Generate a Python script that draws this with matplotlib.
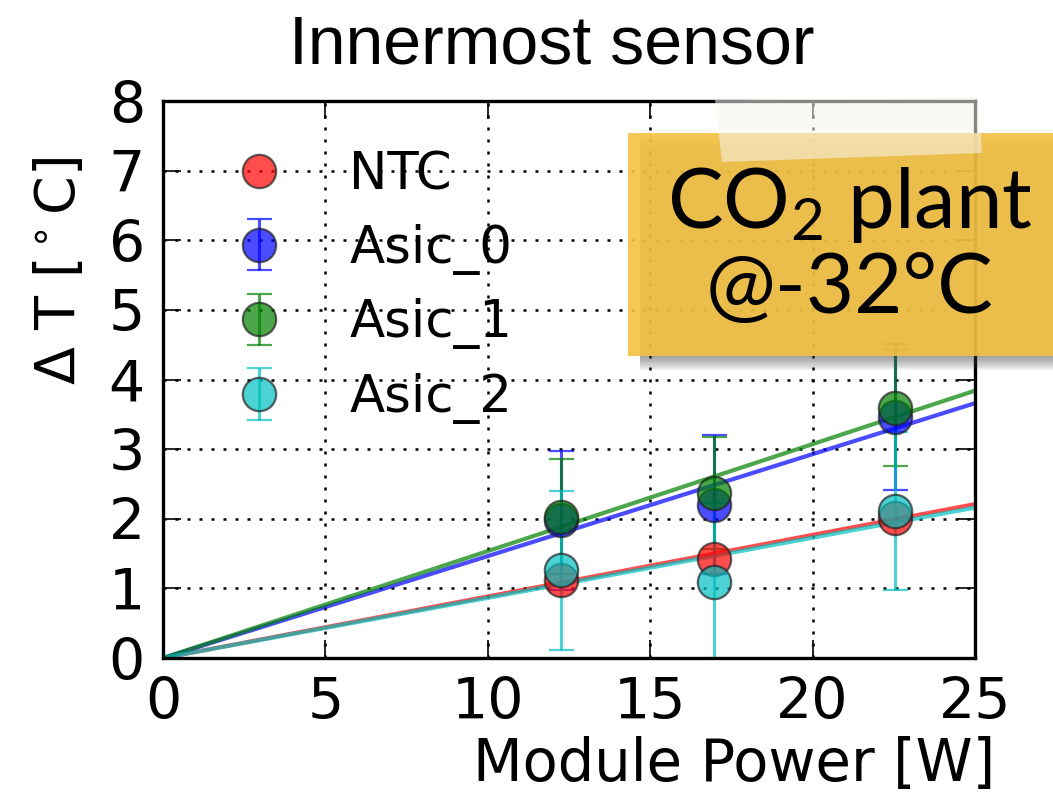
import numpy as np
import matplotlib
matplotlib.use("Agg")
import matplotlib.pyplot as plt
from matplotlib.patches import Rectangle, Polygon

# module power [W]
power = [12.25, 16.95, 22.55]

# temperature rise [C]
ntc = [1.12, 1.42, 2.01]
asic0 = [1.98, 2.20, 3.46]
asic1 = [2.03, 2.37, 3.59]
asic2 = [1.26, 1.09, 2.11]

asic0_err = [1.00, 1.00, 1.05]
asic1_err = [0.83, 0.81, 0.83]
asic2_err = [1.14, 1.14, 1.13]

# slopes of the fits through the origin [C/W]
slopes = {"NTC": 0.0884, "Asic_0": 0.1464, "Asic_1": 0.1536, "Asic_2": 0.0864}
colors = {"NTC": "r", "Asic_0": "b", "Asic_1": "g", "Asic_2": "c"}

plt.rcParams['font.family'] = ['DejaVu Sans']
plt.rcParams['mathtext.rm'] = 'Lato'
plt.rcParams['mathtext.it'] = 'Lato'

fig = plt.figure(figsize=(10.53, 8.01), dpi=100)
ax = fig.add_axes([0.1548, 0.1785, 0.7711, 0.6954])

mk = dict(fmt='o', markersize=24, markeredgecolor='#222222', markeredgewidth=1.6,
          alpha=0.7, elinewidth=2.2, capsize=9, capthick=2.2)

ax.errorbar(power, ntc, color=colors["NTC"], label="NTC", **mk)
series = [("Asic_0", asic0, asic0_err), ("Asic_1", asic1, asic1_err), ("Asic_2", asic2, asic2_err)]
for name, vals, err in series:
    ax.errorbar(power, vals, yerr=err, color=colors[name], label=name, **mk)

xfit = np.array([0, 25])
for name in ["NTC", "Asic_0", "Asic_1", "Asic_2"]:
    ax.plot(xfit, slopes[name] * xfit, '-', color=colors[name], lw=3, alpha=0.7)

ax.set_xlim(0, 25)
ax.set_ylim(0, 8)
ax.set_xticks(np.arange(0, 26, 5))
ax.set_yticks(np.arange(0, 9, 1))
ax.grid(True, color='k', linestyle=(0, (1.2, 3.6)), linewidth=1.8)
ax.tick_params(direction='in', length=13, width=1.2, top=True, right=True,
               labelsize=41, pad=13)
for s in ax.spines.values():
    s.set_linewidth(2.4)

ax.set_title("Innermost sensor", fontsize=49, family=['Liberation Sans', 'DejaVu Sans'], pad=27)
ax.title.set_x(0.479)
ax.set_xlabel("Module Power [W]", fontsize=41.5)
ax.xaxis.set_label_coords(1.0246, -0.14)
ax.xaxis.label.set_ha('right')
ax.set_ylabel(r"Δ T [$^\circ$C]", fontsize=40)
ax.yaxis.set_label_coords(-0.093, 0.695)

leg = ax.legend(loc='upper left', bbox_to_anchor=(0.03, 0.995), numpoints=1, frameon=False,
                fontsize=37, handlelength=1.0, handletextpad=1.25, labelspacing=0.46)

# sticky note
W, H = 1053.0, 801.0
nx0, nx1, ny0, ny1 = 628 / W, 1.0, 1 - 356 / H, 1 - 133 / H
for i in range(12):
    fig.patches.append(Rectangle((nx0 + 12 / W, ny0 - (i + 1) * 1.2 / H), nx1 - nx0, ny1 - ny0,
                                 transform=fig.transFigure, facecolor='#444444',
                                 edgecolor='none', alpha=0.05, zorder=20))
fig.patches.append(Rectangle((nx0, ny0), nx1 - nx0, ny1 - ny0, transform=fig.transFigure,
                             facecolor='#f4c242', edgecolor='none', alpha=0.9, zorder=21))
tape = [(715 / W, 1 - 100 / H), (978 / W, 1 - 97 / H), (982 / W, 1 - 153 / H), (722 / W, 1 - 162 / H)]
fig.patches.append(Polygon(tape, closed=True, transform=fig.transFigure, facecolor='#f7f5f0',
                           edgecolor='none', alpha=0.55, zorder=22))

note_font = ['Lato', 'DejaVu Sans']
fig.text(850 / W, 1 - 228 / H, r"CO$_\mathrm{2}$ plant", fontsize=60, family=note_font,
         math_fontfamily='custom', ha='center', va='baseline', zorder=23)
fig.text(850 / W, 1 - 313 / H, "@-32°C", fontsize=60, family=note_font,
         ha='center', va='baseline', zorder=23)

fig.savefig("out.png", dpi=100)
